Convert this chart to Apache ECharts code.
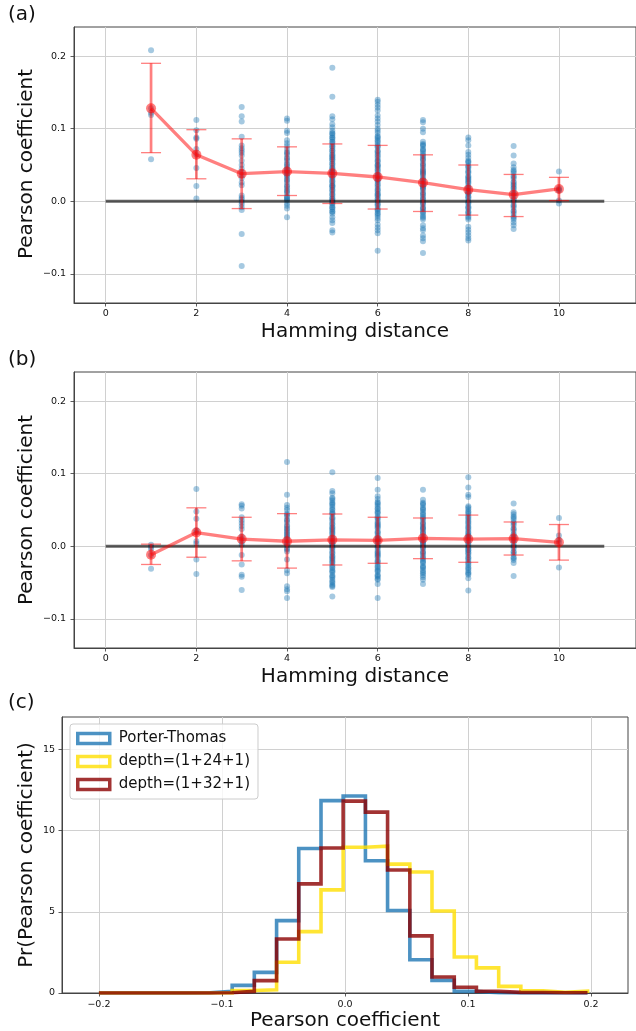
<!DOCTYPE html>
<html><head><meta charset="utf-8">
<script src="https://cdn.jsdelivr.net/npm/echarts@6/dist/echarts.min.js"></script>
<style>html,body{margin:0;padding:0;background:#fff}#c{width:636px;height:1031px}</style>
</head><body><div id="c"></div>
<script>
// ---------- data ----------
const hamming = [1, 2, 3, 4, 5, 6, 7, 8, 9, 10];

// panel (a): per-Hamming-distance Pearson coefficients
const scatterA = [
  [0.208, 0.122, 0.119, 0.128, 0.058],
  [0.112, 0.098, 0.088, 0.086, 0.072, 0.064, 0.046, 0.021, 0.004],
  [0.130, 0.117, 0.110, 0.089, 0.077, 0.073, 0.070, 0.067, 0.063, 0.056, 0.050, 0.045, 0.040, 0.036, 0.032, 0.026, 0.022, 0.008, 0.005, 0.003, -0.001, -0.004, -0.008, -0.012, -0.045, -0.089],
  [0.114, 0.111, 0.097, 0.094, 0.084, 0.080, 0.076, 0.072, 0.068, 0.064, 0.060, 0.056, 0.052, 0.048, 0.045, 0.041, 0.037, 0.033, 0.030, 0.026, 0.022, 0.018, 0.015, 0.011, 0.007, 0.004, 0.001, -0.003, -0.006, -0.010, -0.022,
   0.0665, 0.0585, 0.0505, 0.0435, 0.0355, 0.0285, 0.0205, 0.0135, 0.0055, 0.0025, 0.0395],
  [0.184, 0.144, 0.117, 0.113, 0.106, 0.102, 0.097, 0.094, 0.091, 0.088, 0.085, 0.082, 0.079, 0.076, 0.073, 0.070, 0.067, 0.064, 0.061, 0.058, 0.055, 0.052, 0.049, 0.046, 0.043, 0.040, 0.037, 0.034, 0.031, 0.028, 0.025, 0.022, 0.019, 0.016, 0.013, 0.010, 0.007, 0.004, 0.001, -0.002, -0.005, -0.008, -0.011, -0.014, -0.017, -0.022, -0.026, -0.030, -0.040, -0.043,
   0.0935, 0.0875, 0.0815, 0.0755, 0.0695, 0.0635, 0.0575, 0.0515, 0.0455, 0.0395, 0.0335, 0.0275, 0.0215, 0.0155, 0.0095, 0.0035, -0.0025, -0.0085, -0.0145, 0.0605, 0.0405, 0.0205, 0.0005],
  [0.140, 0.137, 0.133, 0.129, 0.125, 0.118, 0.114, 0.110, 0.105, 0.100, 0.097, 0.094, 0.090, 0.087, 0.084, 0.080, 0.077, 0.074, 0.070, 0.067, 0.064, 0.060, 0.057, 0.054, 0.050, 0.047, 0.044, 0.040, 0.037, 0.034, 0.030, 0.027, 0.024, 0.020, 0.017, 0.014, 0.010, 0.007, 0.004, 0.000, -0.003, -0.006, -0.010, -0.013, -0.016, -0.020, -0.023, -0.026, -0.032, -0.036, -0.040, -0.044, -0.068,
   0.0885, 0.0825, 0.0755, 0.0685, 0.0625, 0.0555, 0.0485, 0.0425, 0.0355, 0.0285, 0.0225, 0.0155, 0.0085, 0.0025, -0.0045, -0.0115, -0.0175, 0.0505, 0.0305, 0.0105],
  [0.112, 0.109, 0.100, 0.095, 0.082, 0.079, 0.076, 0.072, 0.069, 0.066, 0.062, 0.059, 0.056, 0.052, 0.049, 0.046, 0.042, 0.039, 0.036, 0.032, 0.029, 0.026, 0.022, 0.019, 0.016, 0.012, 0.009, 0.006, 0.002, -0.001, -0.004, -0.008, -0.011, -0.014, -0.018, -0.021, -0.025, -0.033, -0.037, -0.040, -0.047, -0.051, -0.055, -0.071,
   0.0775, 0.0705, 0.0635, 0.0575, 0.0505, 0.0435, 0.0375, 0.0305, 0.0235, 0.0175, 0.0105, 0.0035, -0.0025, -0.0095, -0.0155, -0.0225, 0.0405, 0.0205],
  [0.088, 0.084, 0.077, 0.068, 0.064, 0.060, 0.056, 0.053, 0.049, 0.046, 0.042, 0.039, 0.035, 0.032, 0.028, 0.025, 0.021, 0.018, 0.014, 0.011, 0.007, 0.004, 0.000, -0.003, -0.007, -0.010, -0.014, -0.017, -0.021, -0.025, -0.035, -0.039, -0.043, -0.047, -0.051, -0.054,
   0.0545, 0.0475, 0.0405, 0.0335, 0.0265, 0.0195, 0.0125, 0.0055, -0.0015, -0.0085, -0.0155, -0.0225, 0.0305, 0.0105],
  [0.076, 0.063, 0.052, 0.047, 0.043, 0.039, 0.035, 0.031, 0.027, 0.023, 0.019, 0.015, 0.011, 0.007, 0.003, -0.001, -0.005, -0.009, -0.013, -0.017, -0.021, -0.025, -0.029, -0.033, -0.038,
   0.0415, 0.0335, 0.0255, 0.0175, 0.0095, 0.0015, -0.0065, -0.0145, -0.0225, 0.0215],
  [0.041, 0.018, 0.016, 0.015, 0.001, -0.003]
];
const meanA = [0.128, 0.064, 0.038, 0.041, 0.0385, 0.0335, 0.0257, 0.016, 0.0092, 0.017];
const lowA  = [0.067, 0.031, -0.010, 0.008, -0.003, -0.0106, -0.014, -0.019, -0.021, 0.001];
const highA = [0.190, 0.0986, 0.086, 0.075, 0.079, 0.077, 0.064, 0.050, 0.037, 0.033];

// panel (b)
const scatterB = [
  [0.002, -0.001, -0.004, -0.012, -0.031],
  [0.079, 0.048, 0.038, 0.022, 0.019, 0.007, 0.004, -0.018, -0.038],
  [0.058, 0.056, 0.052, 0.040, 0.036, 0.032, 0.028, 0.024, 0.014, 0.010, 0.006, 0.002, -0.012, -0.025, -0.039, -0.042, -0.060],
  [0.116, 0.071, 0.057, 0.053, 0.050, 0.045, 0.041, 0.037, 0.033, 0.029, 0.025, 0.021, 0.017, 0.013, 0.009, 0.005, 0.001, -0.003, -0.007, -0.018, -0.033, -0.037, -0.055, -0.059, -0.062, -0.071,
   0.0435, 0.0355, 0.0275, 0.0195, 0.0115, 0.0035, -0.0045, 0.0155, 0.0235],
  [0.102, 0.076, 0.073, 0.067, 0.063, 0.060, 0.057, 0.054, 0.050, 0.047, 0.044, 0.040, 0.037, 0.034, 0.030, 0.027, 0.024, 0.020, 0.017, 0.014, 0.010, 0.007, 0.004, 0.000, -0.003, -0.006, -0.010, -0.013, -0.016, -0.020, -0.023, -0.026, -0.030, -0.033, -0.036, -0.040, -0.043, -0.046, -0.050, -0.053, -0.056, -0.069,
   0.0655, 0.0585, 0.0515, 0.0455, 0.0385, 0.0315, 0.0255, 0.0185, 0.0115, 0.0055, -0.0015, -0.0085, -0.0145, -0.0215, -0.0285, -0.0345, -0.0415, -0.0485, -0.0545, 0.0225, 0.0025, -0.0175],
  [0.094, 0.078, 0.069, 0.065, 0.061, 0.058, 0.055, 0.051, 0.048, 0.045, 0.041, 0.038, 0.035, 0.031, 0.028, 0.025, 0.021, 0.018, 0.015, 0.011, 0.008, 0.005, 0.001, -0.002, -0.005, -0.009, -0.012, -0.015, -0.019, -0.022, -0.025, -0.029, -0.032, -0.035, -0.039, -0.042, -0.046, -0.052, -0.071,
   0.0595, 0.0525, 0.0465, 0.0395, 0.0325, 0.0265, 0.0195, 0.0125, 0.0065, -0.0005, -0.0075, -0.0135, -0.0205, -0.0275, -0.0335, -0.0405, -0.0445, 0.0295, 0.0095, -0.0105],
  [0.078, 0.064, 0.060, 0.057, 0.053, 0.050, 0.047, 0.043, 0.040, 0.037, 0.033, 0.030, 0.027, 0.023, 0.020, 0.017, 0.013, 0.010, 0.007, 0.003, 0.000, -0.003, -0.007, -0.010, -0.013, -0.017, -0.020, -0.023, -0.027, -0.030, -0.033, -0.037, -0.040, -0.046, -0.052,
   0.0585, 0.0515, 0.0445, 0.0385, 0.0315, 0.0245, 0.0185, 0.0115, 0.0045, -0.0015, -0.0085, -0.0155, -0.0215, -0.0285, -0.0355, -0.0425, 0.0255, 0.0055],
  [0.095, 0.081, 0.071, 0.068, 0.055, 0.051, 0.048, 0.044, 0.041, 0.037, 0.034, 0.030, 0.027, 0.023, 0.020, 0.016, 0.013, 0.009, 0.006, 0.002, -0.001, -0.005, -0.008, -0.012, -0.015, -0.019, -0.022, -0.026, -0.029, -0.033, -0.036, -0.039, -0.044, -0.061,
   0.0535, 0.0465, 0.0395, 0.0325, 0.0255, 0.0185, 0.0115, 0.0045, -0.0025, -0.0095, -0.0165, -0.0235, -0.0305, -0.0375, 0.0145, -0.0055],
  [0.059, 0.047, 0.044, 0.041, 0.037, 0.033, 0.029, 0.025, 0.021, 0.017, 0.013, 0.009, 0.005, 0.001, -0.003, -0.007, -0.011, -0.015, -0.019, -0.023, -0.041,
   0.0395, 0.0315, 0.0235, 0.0155, 0.0075, -0.0005, -0.0085, -0.0165, 0.0115],
  [0.039, 0.015, 0.009, 0.005, -0.029]
];
const meanB = [-0.0115, 0.019, 0.010, 0.007, 0.009, 0.0083, 0.011, 0.010, 0.0106, 0.0055];
const lowB  = [-0.025, -0.015, -0.020, -0.030, -0.0257, -0.0234, -0.017, -0.022, -0.012, -0.019];
const highB = [0.003, 0.053, 0.040, 0.045, 0.0445, 0.040, 0.039, 0.043, 0.0335, 0.030];

// panel (c): histograms (density)
const binEdges = [-0.2000, -0.1820, -0.1639, -0.1459, -0.1278, -0.1098, -0.0917, -0.0737, -0.0556, -0.0376, -0.0195, -0.0015, 0.0166, 0.0346, 0.0527, 0.0707, 0.0888, 0.1068, 0.1249, 0.1429, 0.1610, 0.1790, 0.1971];
const histPorterThomas = [0, 0, 0, 0, 0.02, 0.10, 0.47, 1.27, 4.46, 8.90, 11.85, 12.13, 8.15, 5.08, 2.05, 0.78, 0.10, 0.02, 0, 0, 0, 0];
const histDepth24 =      [0, 0, 0, 0, 0, 0, 0.15, 0.20, 1.89, 3.78, 6.35, 8.98, 9.04, 7.94, 7.45, 5.05, 2.22, 1.55, 0.41, 0.14, 0.05, 0.12];
const histDepth32 =      [0, 0, 0, 0, 0, 0.02, 0.10, 0.76, 3.33, 6.72, 8.93, 11.82, 11.14, 7.58, 3.52, 0.99, 0.35, 0.11, 0.04, 0.03, 0.02, 0.02];
const histNames = ['Porter-Thomas', 'depth=(1+24+1)', 'depth=(1+32+1)'];

// tick labels
const hammingTicks = [0, 2, 4, 6, 8, 10];
const pearsonTicks = [-0.1, 0.0, 0.1, 0.2];
const histXTicks = [-0.2, -0.1, 0.0, 0.1, 0.2];
const histYTicks = [0, 5, 10, 15];

// ---------- chart ----------
const FONT = 'DejaVu Sans';
const fmt1 = v => (v < -1e-9 ? '\u2212' : '') + Math.abs(v).toFixed(1);
const fmt0 = v => (v < -1e-9 ? '\u2212' : '') + Math.abs(Math.round(v));

function axis(gridIndex, min, max, ticks, formatter, margin) {
  return {
    type: 'value', gridIndex, min, max,
    axisLine: { show: true, onZero: false, lineStyle: { color: '#444', width: 1 } },
    axisTick: { show: true, inside: false, length: 3.5, customValues: ticks, lineStyle: { color: '#333', width: 0.8 } },
    axisLabel: { customValues: ticks, formatter, fontSize: 9.5, fontFamily: FONT, color: '#111', margin },
    splitLine: { show: true, lineStyle: { color: '#d0d0d0', width: 1 } }
  };
}

function flatten(cols) {
  const out = [];
  cols.forEach((col, i) => col.forEach(v => out.push([hamming[i], v])));
  return out;
}

function renderErr(params, api) {
  const x = api.value(0), lo = api.value(1), hi = api.value(2);
  const a = api.coord([x, lo]), b = api.coord([x, hi]);
  const stroke = 'rgba(255,0,0,0.5)';
  return {
    type: 'group', children: [
      { type: 'line', shape: { x1: a[0], y1: a[1], x2: b[0], y2: b[1] }, style: { stroke, lineWidth: 2.7 } },
      { type: 'line', shape: { x1: a[0] - 10, y1: a[1], x2: a[0] + 10, y2: a[1] }, style: { stroke, lineWidth: 1.3 } },
      { type: 'line', shape: { x1: b[0] - 10, y1: b[1], x2: b[0] + 10, y2: b[1] }, style: { stroke, lineWidth: 1.3 } }
    ]
  };
}

function panelSeries(idx, cols, mean, lo, hi) {
  return [
    { type: 'scatter', xAxisIndex: idx, yAxisIndex: idx, data: flatten(cols), symbolSize: 6,
      itemStyle: { color: 'rgba(31,119,180,0.5)' }, silent: true, z: 2 },
    { type: 'line', xAxisIndex: idx, yAxisIndex: idx, data: [[0, 0], [11, 0]], showSymbol: false, symbol: 'none',
      lineStyle: { color: 'rgba(0,0,0,0.62)', width: 3 }, silent: true, z: 3 },
    { type: 'custom', xAxisIndex: idx, yAxisIndex: idx, renderItem: renderErr, clip: false,
      data: hamming.map((x, i) => [x, lo[i], hi[i]]), encode: { x: 0, y: [1, 2] }, silent: true, z: 4 },
    { type: 'line', xAxisIndex: idx, yAxisIndex: idx, data: hamming.map((x, i) => [x, mean[i]]),
      symbol: 'circle', symbolSize: 10, showSymbol: true,
      itemStyle: { color: 'rgba(255,0,0,0.5)', borderWidth: 0 },
      lineStyle: { color: 'rgba(255,0,0,0.5)', width: 3.3 }, silent: true, z: 5 }
  ];
}

function stepData(vals) {
  const pts = [[binEdges[0], 0]];
  vals.forEach((v, i) => { pts.push([binEdges[i], v]); pts.push([binEdges[i + 1], v]); });
  pts.push([binEdges[binEdges.length - 1], 0]);
  return pts;
}

const histColors = ['rgba(31,119,180,0.8)', 'rgba(255,222,0,0.8)', 'rgba(139,0,0,0.8)'];
const histVals = [histPorterThomas, histDepth24, histDepth32];

const histSeries = histVals.map((vals, k) => ({
  type: 'line', name: histNames[k], xAxisIndex: 2, yAxisIndex: 2, data: stepData(vals),
  showSymbol: false, symbol: 'none', silent: true, z: 3 + k,
  itemStyle: { color: histColors[k] },
  lineStyle: { color: histColors[k], width: 3.6, join: 'miter', cap: 'butt' }
}));

const option = {
  animation: false,
  backgroundColor: '#fff',
  grid: [
    { left: 74, right: -4, top: 27, height: 276, show: true, borderColor: '#444', borderWidth: 1 },
    { left: 74, right: -4, top: 372, height: 276, show: true, borderColor: '#444', borderWidth: 1 },
    { left: 62, width: 566, top: 717, height: 276, show: true, borderColor: '#444', borderWidth: 1 }
  ],
  xAxis: [
    axis(0, -0.7, 11.7, hammingTicks, fmt0, 6),
    axis(1, -0.7, 11.7, hammingTicks, fmt0, 6),
    axis(2, -0.23, 0.23, histXTicks, fmt1, 7)
  ],
  yAxis: [
    axis(0, -0.14, 0.24, pearsonTicks, fmt1, 8),
    axis(1, -0.14, 0.24, pearsonTicks, fmt1, 8),
    axis(2, 0, 17, histYTicks, fmt0, 7)
  ],
  legend: {
    left: 70, top: 724, orient: 'vertical', selectedMode: false,
    itemWidth: 32, itemHeight: 10, itemGap: 8,
    padding: [7, 8, 7, 6],
    backgroundColor: 'rgba(255,255,255,0.8)', borderColor: '#cccccc', borderWidth: 1, borderRadius: 3,
    textStyle: { fontSize: 15, fontFamily: FONT, color: '#111', padding: [0, 0, 0, 4] },
    data: histNames.map((n, k) => ({ name: n, icon: 'rect',
      itemStyle: { color: 'rgba(0,0,0,0)', borderColor: histColors[k], borderWidth: 3.5 } }))
  },
  graphic: [
    { type: 'text', x: 8, y: 15, style: { text: '(a)', fontSize: 20, fontFamily: FONT, fill: '#111', textAlign: 'left', textVerticalAlign: 'middle' } },
    { type: 'text', x: 8, y: 360, style: { text: '(b)', fontSize: 20, fontFamily: FONT, fill: '#111', textAlign: 'left', textVerticalAlign: 'middle' } },
    { type: 'text', x: 8, y: 703, style: { text: '(c)', fontSize: 20, fontFamily: FONT, fill: '#111', textAlign: 'left', textVerticalAlign: 'middle' } },
    { type: 'text', x: 355, y: 332, style: { text: 'Hamming distance', fontSize: 20, fontFamily: FONT, fill: '#111', textAlign: 'center', textVerticalAlign: 'middle' } },
    { type: 'text', x: 355, y: 677, style: { text: 'Hamming distance', fontSize: 20, fontFamily: FONT, fill: '#111', textAlign: 'center', textVerticalAlign: 'middle' } },
    { type: 'text', x: 345, y: 1021, style: { text: 'Pearson coefficient', fontSize: 20, fontFamily: FONT, fill: '#111', textAlign: 'center', textVerticalAlign: 'middle' } },
    { type: 'text', x: 27, y: 164, rotation: Math.PI / 2, style: { text: 'Pearson coefficient', fontSize: 20, fontFamily: FONT, fill: '#111', textAlign: 'center', textVerticalAlign: 'middle' } },
    { type: 'text', x: 27, y: 510, rotation: Math.PI / 2, style: { text: 'Pearson coefficient', fontSize: 20, fontFamily: FONT, fill: '#111', textAlign: 'center', textVerticalAlign: 'middle' } },
    { type: 'text', x: 27, y: 855, rotation: Math.PI / 2, style: { text: 'Pr(Pearson coefficient)', fontSize: 20, fontFamily: FONT, fill: '#111', textAlign: 'center', textVerticalAlign: 'middle' } }
  ],
  series: [].concat(
    panelSeries(0, scatterA, meanA, lowA, highA),
    panelSeries(1, scatterB, meanB, lowB, highB),
    histSeries
  )
};

const chart = echarts.init(document.getElementById('c'), null, { renderer: 'canvas' });
chart.setOption(option);
</script>
</body></html>
